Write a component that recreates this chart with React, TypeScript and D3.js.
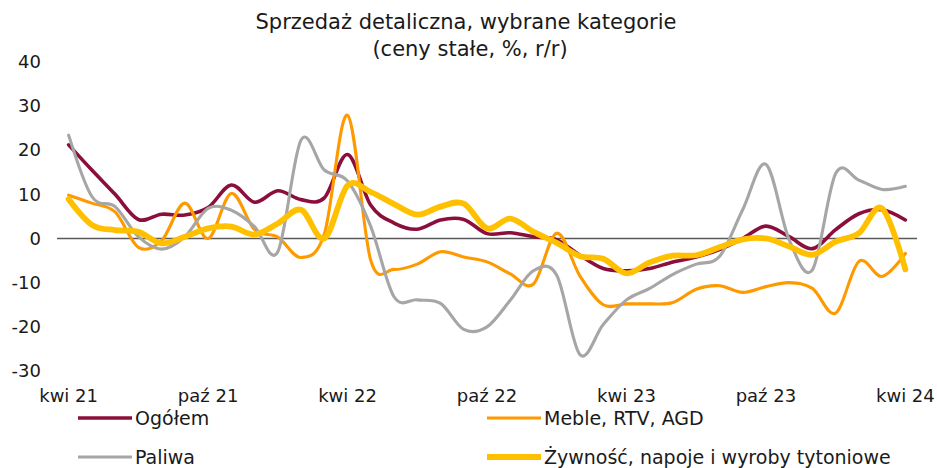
import React, { useEffect, useRef } from 'react'
import * as d3 from 'd3'

const months = [
  'kwi 21', 'maj 21', 'cze 21', 'lip 21', 'sie 21', 'wrz 21', 'paź 21', 'lis 21', 'gru 21',
  'sty 22', 'lut 22', 'mar 22', 'kwi 22', 'maj 22', 'cze 22', 'lip 22', 'sie 22', 'wrz 22',
  'paź 22', 'lis 22', 'gru 22', 'sty 23', 'lut 23', 'mar 23', 'kwi 23', 'maj 23', 'cze 23',
  'lip 23', 'sie 23', 'wrz 23', 'paź 23', 'lis 23', 'gru 23', 'sty 24', 'lut 24', 'mar 24',
  'kwi 24'
]
const tickLabels = ['kwi 21', 'paź 21', 'kwi 22', 'paź 22', 'kwi 23', 'paź 23', 'kwi 24']
const yTicks = [-30, -20, -10, 0, 10, 20, 30, 40]

const ogolem = [21.2, 15.5, 10.0, 4.3, 5.5, 5.3, 7.0, 12.1, 8.2, 10.8, 8.8, 9.2, 19.0, 7.5, 3.5, 2.1, 4.2, 4.3, 1.1, 1.3, 0.4, -0.3, -3.8, -6.8, -7.3, -6.8, -5.3, -4.2, -2.5, 0.0, 2.8, 0.4, -2.3, 2.0, 5.6, 6.5, 4.2]
const meble = [9.8, 8.0, 6.0, -2.0, -0.5, 8.0, 0.0, 10.2, 2.0, 0.3, -4.3, 1.0, 27.9, -5.0, -7.0, -5.8, -3.0, -4.2, -5.3, -8.0, -10.3, 1.2, -8.5, -15.0, -14.8, -14.8, -14.5, -11.5, -10.7, -12.2, -10.9, -10.0, -11.3, -16.9, -5.2, -8.6, -3.4]
const paliwa = [23.4, 9.5, 7.2, 0.4, -2.4, 0.4, 6.8, 6.4, 2.7, -3.0, 22.3, 15.5, 13.0, 2.7, -13.2, -13.9, -14.7, -20.6, -20.0, -14.0, -7.3, -8.3, -26.3, -19.5, -13.9, -11.3, -8.1, -5.8, -4.1, 6.5, 16.8, -0.3, -7.1, 14.7, 13.2, 11.1, 11.8]
const zywnosc = [8.9, 3.1, 1.9, 1.5, -1.1, 0.4, 2.3, 2.7, 0.9, 3.4, 6.5, 0.0, 12.0, 10.5, 7.8, 5.4, 7.2, 7.9, 2.3, 4.5, 1.5, -1.0, -4.0, -4.6, -7.9, -5.4, -3.9, -3.8, -2.0, -0.2, 0.0, -1.8, -3.7, -0.7, 1.2, 6.8, -7.0]

const seriesNames = ['Ogółem', 'Meble, RTV, AGD', 'Paliwa', 'Żywność, napoje i wyroby tytoniowe']
const seriesValues = [ogolem, meble, paliwa, zywnosc]
const colors = ['#8b0f3d', '#ff9900', '#a6a6a6', '#ffc000']
const widths = [3.6, 3.1, 3.1, 5.8]

const W = 937
const H = 468
const FONT = 'DejaVu Sans, Verdana, sans-serif'

export default function App() {
  const node = useRef<SVGSVGElement>(null)

  useEffect(() => {
    const svg = d3.select(node.current)
    svg.selectAll('*').remove()

    const x = d3.scalePoint<string>()
      .domain(months)
      .range([57, 917])
      .padding(0.5)

    const y = d3.scaleLinear()
      .domain([-30, 40])
      .range([371, 61.8])

    // Title
    svg.append('text')
      .attr('x', 466)
      .attr('y', 29)
      .attr('text-anchor', 'middle')
      .attr('font-family', FONT)
      .attr('font-size', 21)
      .attr('fill', '#1a1a1a')
      .text('Sprzedaż detaliczna, wybrane kategorie')
    svg.append('text')
      .attr('x', 470)
      .attr('y', 56)
      .attr('text-anchor', 'middle')
      .attr('font-family', FONT)
      .attr('font-size', 21)
      .attr('fill', '#1a1a1a')
      .text('(ceny stałe, %, r/r)')

    // Y labels
    svg.append('g')
      .selectAll('text')
      .data(yTicks)
      .enter()
      .append('text')
      .attr('x', 41)
      .attr('y', d => y(d))
      .attr('dy', '0.35em')
      .attr('text-anchor', 'end')
      .attr('font-family', FONT)
      .attr('font-size', 18)
      .attr('fill', '#1a1a1a')
      .text(d => String(d))

    // zero line
    svg.append('line')
      .attr('x1', 57)
      .attr('x2', 917)
      .attr('y1', y(0))
      .attr('y2', y(0))
      .attr('stroke', '#595959')
      .attr('stroke-width', 1.5)

    // X labels
    svg.append('g')
      .selectAll('text')
      .data(tickLabels)
      .enter()
      .append('text')
      .attr('x', d => x(d) as number)
      .attr('y', 402)
      .attr('text-anchor', 'middle')
      .attr('font-family', FONT)
      .attr('font-size', 18)
      .attr('fill', '#1a1a1a')
      .text(d => d)

    // Lines
    const line = d3.line<number>()
      .x((d, i) => x(months[i]) as number)
      .y(d => y(d))
      .curve(d3.curveCardinal.tension(0))

    seriesValues.forEach((vals, k) => {
      svg.append('path')
        .datum(vals)
        .attr('fill', 'none')
        .attr('stroke', colors[k])
        .attr('stroke-width', widths[k])
        .attr('stroke-linejoin', 'round')
        .attr('stroke-linecap', 'round')
        .attr('d', line)
    })

    // Legend
    const legendPos = [
      { x: 78, y: 418 },
      { x: 487, y: 418 },
      { x: 78, y: 457 },
      { x: 487, y: 457 }
    ]
    seriesNames.forEach((name, k) => {
      const p = legendPos[k]
      svg.append('line')
        .attr('x1', p.x)
        .attr('x2', p.x + 54)
        .attr('y1', p.y)
        .attr('y2', p.y)
        .attr('stroke', colors[k])
        .attr('stroke-width', widths[k])
      svg.append('text')
        .attr('x', p.x + 57)
        .attr('y', p.y)
        .attr('dy', '0.36em')
        .attr('font-family', FONT)
        .attr('font-size', 19)
        .attr('fill', '#1a1a1a')
        .text(name)
    })
  }, [])

  return (
    <svg ref={node} width={W} height={H}
      style={{ position: 'absolute', left: 0, top: 0, background: '#fff' }}>
    </svg>
  )
}
